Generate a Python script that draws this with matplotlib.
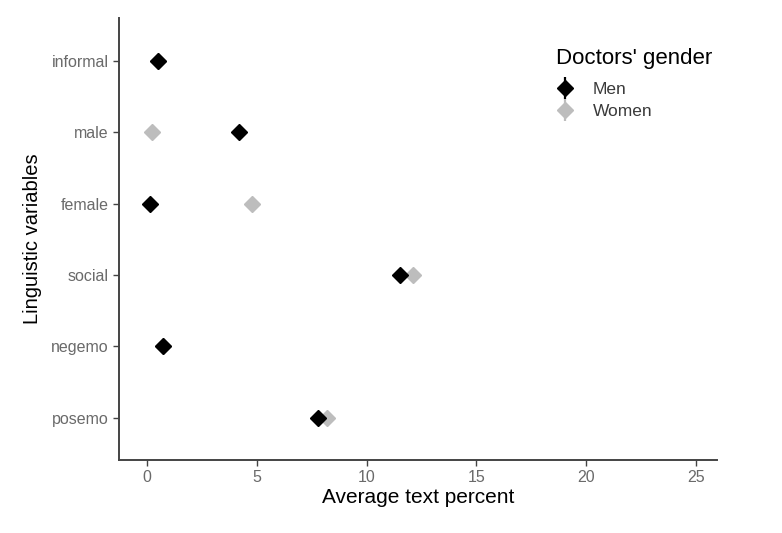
import matplotlib.pyplot as plt
from matplotlib.lines import Line2D

plt.rcParams['font.family'] = ['Liberation Sans', 'DejaVu Sans']

# categories from bottom to top
categories = ['posemo', 'negemo', 'social', 'female', 'male', 'informal']
men = [7.8, 0.73, 11.5, 0.14, 4.2, 0.5]
women = [8.2, 0.73, 12.1, 4.8, 0.23, 0.5]
xticks = [0, 5, 10, 15, 20, 25]

men_col = 'black'
women_col = '#bdbdbd'

fig = plt.figure(figsize=(7.82, 5.33), dpi=100)
ax = fig.add_axes([0.152, 0.137, 0.765, 0.829])

ypos = list(range(1, len(categories) + 1))
ax.plot(women, ypos, 'D', color=women_col, markersize=8.5, linestyle='none', zorder=3)
ax.plot(men, ypos, 'D', color=men_col, markersize=8.5, linestyle='none', zorder=4)

ax.set_xlim(-1.27, 25.95)
ax.set_ylim(0.41, 6.6)
ax.set_xticks(xticks)
ax.set_yticks(ypos)
ax.set_yticklabels(categories)

for s in ['top', 'right']:
    ax.spines[s].set_visible(False)
for s in ['left', 'bottom']:
    ax.spines[s].set_color('#444444')
    ax.spines[s].set_linewidth(1.4)
ax.tick_params(axis='both', colors='#444444', labelcolor='#6a6a6a',
               labelsize=11.5, length=4, width=1)

ax.set_xlabel('Average text percent', fontsize=15, labelpad=2)
ax.set_ylabel('Linguistic variables', fontsize=14.5, labelpad=6)

h_men = (Line2D([], [], marker='D', color=men_col, markersize=8.5, linestyle='none'),
         Line2D([], [], marker='|', color=men_col, markersize=16, markeredgewidth=1.6, linestyle='none'))
h_women = (Line2D([], [], marker='D', color=women_col, markersize=8.5, linestyle='none'),
           Line2D([], [], marker='|', color=women_col, markersize=16, markeredgewidth=1.6, linestyle='none'))
leg = ax.legend([h_men, h_women], ['Men', 'Women'], title="Doctors' gender",
                loc='upper left', bbox_to_anchor=(0.705, 0.967), frameon=False,
                fontsize=12.5, title_fontsize=16, handlelength=1.0,
                handletextpad=1.1, labelspacing=0.4)
leg._legend_box.align = 'left'
leg._legend_box.sep = 9
for t in leg.get_texts():
    t.set_color('#3a3a3a')

fig.savefig('out.png', dpi=100)
